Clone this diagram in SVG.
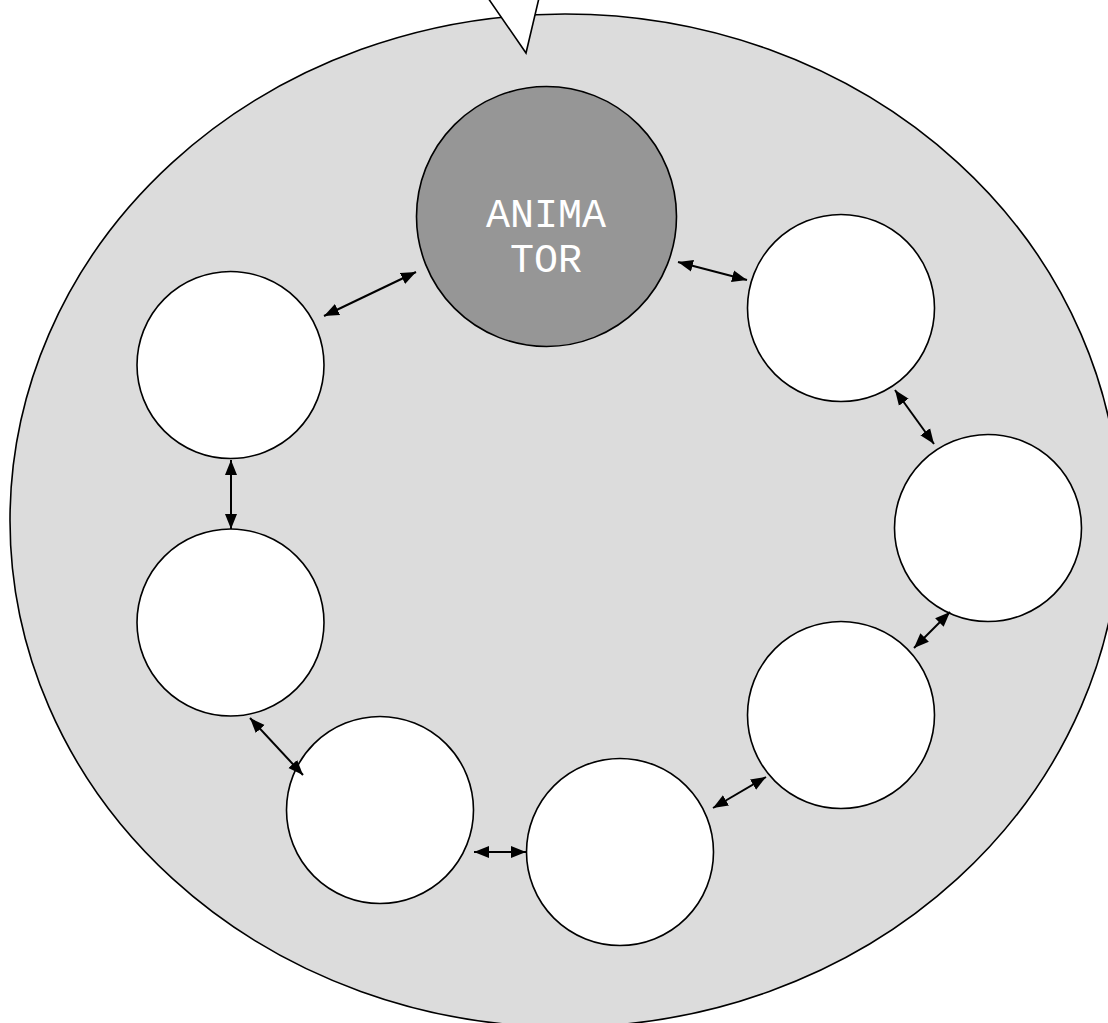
<svg xmlns="http://www.w3.org/2000/svg" width="1108" height="1023" viewBox="0 0 1108 1023">
<style>
.bg{fill:#dcdcdc;stroke:#000;stroke-width:1.6}
.node{fill:#fff;stroke:#000;stroke-width:1.6}
.anim{fill:#969696;stroke:#000;stroke-width:1.6}
.lbl{font-family:"Liberation Mono","Courier New",monospace;font-size:40px;fill:#fff;text-anchor:middle}
.conn line{stroke:#000;stroke-width:2;marker-start:url(#ah);marker-end:url(#ah)}
</style>
<defs>
<marker id="ah" markerUnits="userSpaceOnUse" markerWidth="16" markerHeight="13" refX="15" refY="6" orient="auto-start-reverse" viewBox="0 0 16 12">
<path d="M0,0 L15,6 L0,12 z" fill="#000"/>
</marker>
</defs>
<rect width="1108" height="1023" fill="#fff"/>
<g id="group">
<ellipse class="bg" cx="565" cy="520.5" rx="555" ry="506.5"/>
<polygon points="488,-2 526,53 539,-2" fill="#fff" stroke="#000" stroke-width="1.6"/>
</g>
<g id="animator">
<circle class="anim" cx="546.5" cy="216.5" r="130"/>
<text class="lbl" x="546" y="227">ANIMA</text>
<text class="lbl" x="546" y="272">TOR</text>
</g>
<g id="n1"><circle class="node" cx="841" cy="308" r="93.5"/></g>
<g id="n2"><circle class="node" cx="988" cy="528" r="93.5"/></g>
<g id="n3"><circle class="node" cx="841" cy="715" r="93.5"/></g>
<g id="n4"><circle class="node" cx="620" cy="852" r="93.5"/></g>
<g id="n5"><circle class="node" cx="380" cy="810" r="93.5"/></g>
<g id="n6"><circle class="node" cx="230.5" cy="622.5" r="93.5"/></g>
<g id="n7"><circle class="node" cx="230.5" cy="365" r="93.5"/></g>
<g id="connectors" class="conn">
<line x1="678" y1="262" x2="747" y2="280"/>
<line x1="416" y1="272" x2="324" y2="316"/>
<line x1="895" y1="390" x2="934" y2="444"/>
<line x1="950" y1="612" x2="914" y2="648"/>
<line x1="766" y1="777" x2="713" y2="808"/>
<line x1="474" y1="852" x2="526" y2="852"/>
<line x1="250" y1="718" x2="303" y2="775"/>
<line x1="231" y1="460" x2="231" y2="529"/>
</g>
</svg>
